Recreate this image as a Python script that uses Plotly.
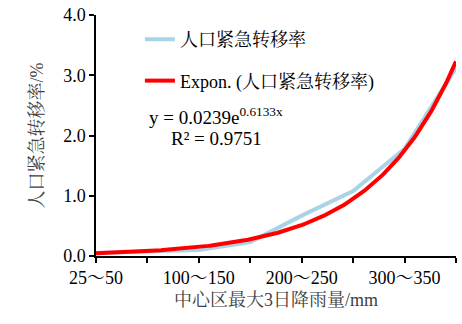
import numpy as np
import plotly.graph_objects as go

categories = ["25～50", "50～100", "100～150", "150～200", "200～250", "250～300", "300～350", "350～400"]
rate = [0.05, 0.08, 0.10, 0.23, 0.67, 1.08, 1.78, 3.12]
fit_a = 0.0239
fit_b = 0.6133
r2 = 0.9751
series_name = "人口紧急转移率"
y_ticks = [0, 1, 2, 3, 4]
y_ticktext = ["0.0", "1.0", "2.0", "3.0", "4.0"]

xs = list(range(1, len(categories) + 1))
label_pos = xs[::2]
label_text = categories[::2]
xfit = np.linspace(1, len(categories), 200)
yfit = fit_a * np.exp(fit_b * xfit)

FONT = "Liberation Serif, Times New Roman, Noto Serif CJK SC, Noto Sans CJK SC, serif"

fig = go.Figure()
fig.add_trace(go.Scatter(x=xs, y=rate, mode="lines", name=series_name,
                         line=dict(color="#A9D3E6", width=4), legendgroup="a"))
fig.add_trace(go.Scatter(x=xfit, y=yfit, mode="lines", name=f"Expon. ({series_name})",
                         line=dict(color="#FF0000", width=4), legendgroup="b"))

fig.add_annotation(x=0.142, y=0.581, xref="paper", yref="paper", xanchor="left", yanchor="middle",
                   text=f"y = {fit_a}e<sup>{fit_b}x</sup>", showarrow=False,
                   font=dict(family=FONT, size=19, color="black"))
fig.add_annotation(x=0.202, y=0.488, xref="paper", yref="paper", xanchor="left", yanchor="middle",
                   text=f"R² = {r2}", showarrow=False,
                   font=dict(family=FONT, size=19, color="black"))

fig.update_layout(
    width=462, height=324,
    margin=dict(l=96, r=6, t=15, b=68, autoexpand=False),
    paper_bgcolor="white", plot_bgcolor="white",
    font=dict(family=FONT, size=18, color="black"),
    showlegend=True,
    legend=dict(x=0.122, y=0.975, xanchor="left", yanchor="top", bgcolor="rgba(0,0,0,0)",
                tracegroupgap=15, traceorder="grouped", font=dict(size=18, family=FONT)),
    xaxis=dict(range=[1, len(categories)], tickmode="array", tickvals=label_pos, ticktext=label_text,
               showline=True, linecolor="black", linewidth=1.5, ticks="outside", ticklen=5,
               tickwidth=1.5, tickcolor="black", showgrid=False, zeroline=False, automargin=False,
               minor=dict(tickmode="array", tickvals=xs, ticks="outside", ticklen=5, tickwidth=1.5,
                          tickcolor="black", showgrid=False),
               tickfont=dict(size=18),
               title=dict(text="中心区最大3日降雨量/mm", font=dict(size=18, color="#404040", family=FONT), standoff=6)),
    yaxis=dict(range=[0, 4], tickmode="array", tickvals=y_ticks, ticktext=y_ticktext,
               showline=True, linecolor="black", linewidth=1.5, ticks="outside", ticklen=5,
               tickwidth=1.5, tickcolor="black", showgrid=False, zeroline=False, automargin=False,
               tickfont=dict(size=18),
               title=dict(text="人口紧急转移率/%", font=dict(size=18, color="#404040", family=FONT), standoff=15)),
)

fig.write_html("out.html", config={"displayModeBar": False},
               post_script="document.body.style.margin='0';document.body.style.padding='0';")
